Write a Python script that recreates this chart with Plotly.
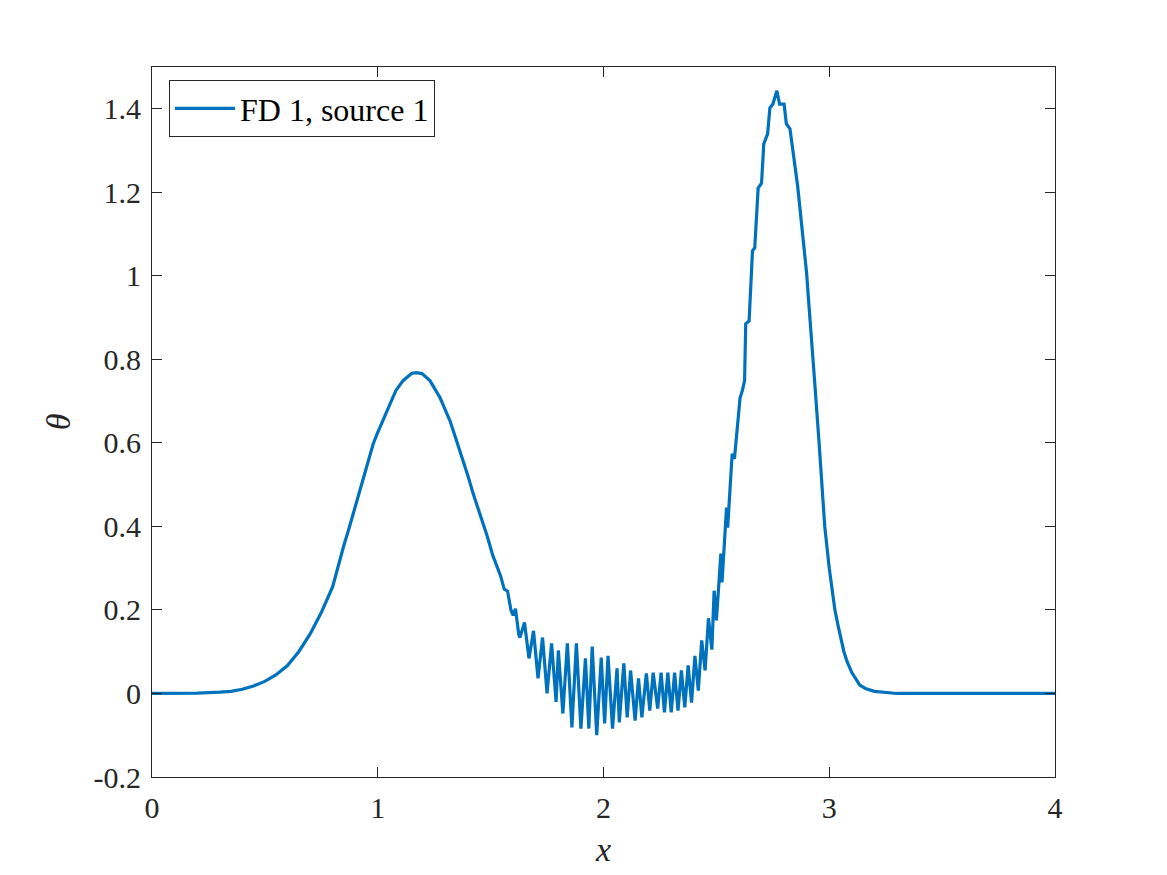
import plotly.graph_objects as go

# ---- data ----
x_vals = [0.0, 0.1, 0.2, 0.3, 0.35, 0.4, 0.45, 0.5, 0.55, 0.6, 0.65, 0.7, 0.75, 0.8,
          0.833, 0.85, 0.87, 0.908, 0.93, 0.95, 0.98, 1.0, 1.02, 1.054, 1.08, 1.112,
          1.13, 1.15, 1.17, 1.196, 1.231, 1.25, 1.276, 1.30, 1.32, 1.34, 1.364, 1.40,
          1.423, 1.45, 1.484, 1.51, 1.53, 1.545, 1.56, 1.575, 1.59, 1.60, 1.61, 1.625,
          1.63, 1.65, 1.67, 1.69, 1.71, 1.73, 1.75, 1.77, 1.79, 1.80, 1.82, 1.84, 1.86,
          1.88, 1.90, 1.92, 1.935, 1.95, 1.97, 1.99, 2.005, 2.02, 2.04, 2.06, 2.07, 2.09,
          2.105, 2.12, 2.14, 2.155, 2.17, 2.19, 2.205, 2.22, 2.24, 2.255, 2.27, 2.285,
          2.30, 2.315, 2.33, 2.345, 2.36, 2.375, 2.39, 2.405, 2.42, 2.435, 2.45, 2.465,
          2.48, 2.49, 2.50, 2.52, 2.525, 2.545, 2.55, 2.57, 2.58, 2.605, 2.615, 2.625,
          2.63, 2.645, 2.66, 2.67, 2.685, 2.70, 2.71, 2.727, 2.737, 2.75, 2.768, 2.78,
          2.80, 2.81, 2.826, 2.84, 2.86, 2.87, 2.885, 2.90, 2.91, 2.925, 2.935, 2.955,
          2.98, 3.0, 3.025, 3.04, 3.065, 3.08, 3.10, 3.135, 3.16, 3.2, 3.25, 3.3, 4.0]
theta_vals = [0.0, 0.0, 0.001, 0.003, 0.005, 0.010, 0.018, 0.029, 0.045, 0.067, 0.10,
              0.142, 0.194, 0.255, 0.325, 0.355, 0.39, 0.462, 0.50, 0.54, 0.598, 0.625,
              0.65, 0.694, 0.725, 0.749, 0.758, 0.766, 0.768, 0.766, 0.749, 0.733, 0.708,
              0.678, 0.653, 0.62, 0.581, 0.52, 0.478, 0.435, 0.378, 0.33, 0.30, 0.28,
              0.25, 0.245, 0.20, 0.187, 0.203, 0.14, 0.134, 0.17, 0.084, 0.15, 0.036,
              0.134, 0.0, 0.12, -0.02, 0.103, -0.048, 0.12, -0.081, 0.12, -0.084, 0.084,
              -0.084, 0.112, -0.10, 0.086, -0.072, 0.09, -0.084, 0.06, -0.069, 0.072,
              -0.057, 0.055, -0.065, 0.036, -0.057, 0.048, -0.041, 0.05, -0.036, 0.05,
              -0.045, 0.05, -0.045, 0.05, -0.041, 0.055, -0.033, 0.067, -0.022, 0.09,
              0.007, 0.127, 0.055, 0.18, 0.105, 0.246, 0.175, 0.335, 0.266, 0.445, 0.397,
              0.574, 0.562, 0.708, 0.725, 0.749, 0.885, 0.892, 1.06, 1.067, 1.21, 1.222,
              1.316, 1.34, 1.402, 1.411, 1.443, 1.411, 1.411, 1.364, 1.352, 1.30, 1.215,
              1.163, 1.09, 1.005, 0.93, 0.828, 0.749, 0.6, 0.4, 0.3, 0.2, 0.16, 0.1,
              0.075, 0.05, 0.02, 0.012, 0.005, 0.002, 0.0, 0.0]

x_ticks = [0, 1, 2, 3, 4]
x_ticklabels = ["0", "1", "2", "3", "4"]
y_ticks = [-0.2, 0, 0.2, 0.4, 0.6, 0.8, 1.0, 1.2, 1.4]
y_ticklabels = ["-0.2", "0", "0.2", "0.4", "0.6", "0.8", "1", "1.2", "1.4"]
series_name = "FD 1, source 1"

FONT = "Liberation Serif"
AX = "#262626"

fig = go.Figure()
fig.add_trace(go.Scatter(x=x_vals, y=theta_vals, mode="lines", name=series_name,
                         line=dict(color="#0072BD", width=3.2)))

axis_common = dict(showline=True, linecolor=AX, linewidth=1, mirror="ticks",
                   ticks="inside", ticklen=10, tickcolor=AX, tickwidth=1,
                   showgrid=False, zeroline=False, automargin=False,
                   tickfont=dict(family=FONT, size=30, color=AX))

fig.update_layout(
    width=1159, height=867,
    paper_bgcolor="white", plot_bgcolor="white",
    margin=dict(l=144, r=112, t=59, b=98),
    showlegend=True,
    legend=dict(x=0.0188, y=0.9817, xanchor="left", yanchor="top",
                bgcolor="white", bordercolor=AX, borderwidth=1,
                font=dict(family=FONT, size=32, color="black"),
                itemwidth=60, tracegroupgap=0),
    xaxis=dict(range=[0, 4], tickvals=x_ticks, ticktext=x_ticklabels,
               ticklabelstandoff=4,
               title=dict(text="<i>x</i>", standoff=14,
                          font=dict(family=FONT, size=34, color=AX)),
               **axis_common),
    yaxis=dict(range=[-0.2, 1.5], tickvals=y_ticks, ticktext=y_ticklabels,
               ticklabelstandoff=4,
               title=dict(text="<i>θ</i>", standoff=12,
                          font=dict(family=FONT, size=34, color=AX)),
               **axis_common),
)

fig.write_html("out.html")
